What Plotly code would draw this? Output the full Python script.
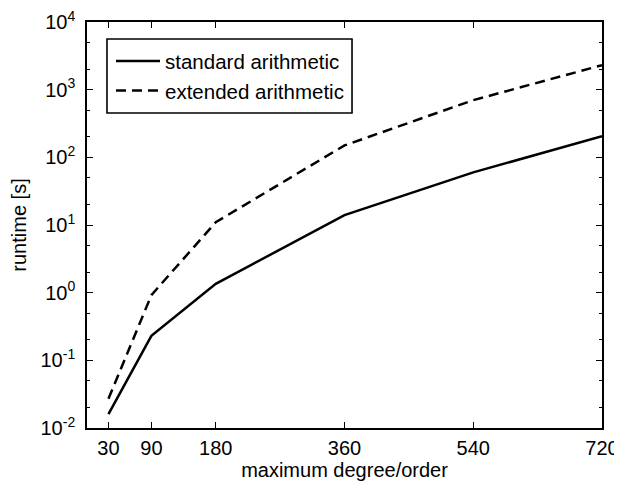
import plotly.graph_objects as go

degree = [30, 90, 180, 360, 540, 720]
standard = [0.016, 0.23, 1.35, 14, 60, 205]
extended = [0.027, 0.92, 11, 150, 700, 2300]

x_ticks = [30, 90, 180, 360, 540, 720]
y_tickvals = [1e-2, 1e-1, 1e0, 1e1, 1e2, 1e3, 1e4]
y_ticktext = ["10<sup>-2</sup>", "10<sup>-1</sup>", "10<sup>0</sup>", "10<sup>1</sup>",
              "10<sup>2</sup>", "10<sup>3</sup>", "10<sup>4</sup>"]

font_family = "Liberation Sans, Arial, Helvetica, sans-serif"
fs = 20

fig = go.Figure()
fig.add_trace(go.Scatter(x=degree, y=standard, mode="lines", name="standard arithmetic",
                         line=dict(color="black", width=2.5)))
fig.add_trace(go.Scatter(x=degree, y=extended, mode="lines", name="extended arithmetic",
                         line=dict(color="black", width=2.5, dash="10px,6px")))

# legend frame (drawn as a shape so its size matches the original box)
fig.add_shape(type="rect", xref="paper", yref="paper",
              x0=0.0388, x1=0.5146, y0=0.776, y1=0.958,
              line=dict(color="black", width=1.6), fillcolor="white", layer="above")

# page body has an 8px default margin, so the figure is 8px smaller and margins shifted
fig.update_layout(
    width=614, height=480,
    margin=dict(l=79, r=20, t=14, b=60, pad=0),
    paper_bgcolor="white", plot_bgcolor="white",
    font=dict(family=font_family, size=fs, color="black"),
    showlegend=True,
    legend=dict(x=0.0466, y=0.953, xanchor="left", yanchor="top",
                borderwidth=0, bgcolor="rgba(0,0,0,0)",
                itemwidth=44,
                font=dict(size=20.5, family=font_family)),
    xaxis=dict(range=[0, 720], tickvals=x_ticks, ticktext=[str(v) for v in x_ticks],
               ticks="inside", ticklen=6, tickcolor="black", tickwidth=1,
               showline=True, linecolor="black", linewidth=1.6, mirror="ticks",
               showgrid=False, zeroline=False, automargin=False,
               ticklabeloverflow="allow", ticklabelstandoff=1,
               title=dict(text="maximum degree/order", font=dict(size=fs), standoff=5),
               tickfont=dict(size=fs)),
    yaxis=dict(type="log", range=[-2, 4], tickvals=y_tickvals, ticktext=y_ticktext,
               ticks="inside", ticklen=6, tickcolor="black", tickwidth=1,
               minor=dict(ticks="inside", ticklen=3.5, tickcolor="black", tickwidth=1, showgrid=False),
               showline=True, linecolor="black", linewidth=1.6, mirror="ticks",
               showgrid=False, zeroline=False, automargin=False,
               ticklabeloverflow="allow", ticklabelstandoff=6,
               title=dict(text="runtime [s]", font=dict(size=fs), standoff=10),
               tickfont=dict(size=fs)),
)

fig.write_html("out.html")
